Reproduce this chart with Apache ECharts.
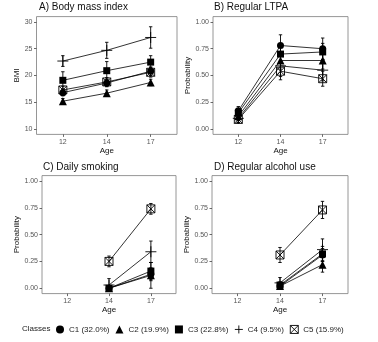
<!DOCTYPE html>
<html>
<head>
<meta charset="utf-8">
<script src="https://cdn.jsdelivr.net/npm/echarts@6/dist/echarts.min.js"></script>
<style>html,body{margin:0;padding:0;background:#fff;}#c{width:378px;height:342px;}</style>
</head>
<body>
<div id="c"></div>
<script>
// ---------- DATA ----------
const ages = ['12', '14', '17'];
const classNames = ['C1 (32.0%)', 'C2 (19.9%)', 'C3 (22.8%)', 'C4 (9.5%)', 'C5 (15.9%)'];
const bmiTicks = [10, 15, 20, 25, 30];
const probTicks = [0, 0.25, 0.5, 0.75, 1];

// A) Body mass index (estimate, +/- half-width)
const bmiC1 = [16.8, 18.6, 20.8];  const bmiC1Err = [0.6, 0.7, 0.8];
const bmiC2 = [15.2, 16.7, 18.7];  const bmiC2Err = [0.5, 0.6, 0.6];
const bmiC3 = [19.1, 20.9, 22.5];  const bmiC3Err = [1.6, 1.7, 1.2];
const bmiC4 = [22.7, 24.7, 27.1];  const bmiC4Err = [1.0, 1.5, 2.0];
const bmiC5 = [17.3, 18.8, 20.6];  const bmiC5Err = [0.7, 0.8, 0.9];

// B) Regular LTPA
const ltpaC1 = [0.17, 0.78, 0.75]; const ltpaC1Err = [0.04, 0.10, 0.10];
const ltpaC2 = [0.12, 0.64, 0.64]; const ltpaC2Err = [0.04, 0.08, 0.08];
const ltpaC3 = [0.15, 0.70, 0.72]; const ltpaC3Err = [0.04, 0.08, 0.08];
const ltpaC4 = [0.10, 0.59, 0.55]; const ltpaC4Err = [0.04, 0.10, 0.10];
const ltpaC5 = [0.09, 0.54, 0.47]; const ltpaC5Err = [0.03, 0.08, 0.07];

// C) Daily smoking
const smkC1 = [null, 0.00, 0.13];  const smkC1Err = [null, 0.01, 0.06];
const smkC2 = [null, 0.00, 0.12];  const smkC2Err = [null, 0.01, 0.12];
const smkC3 = [null, 0.00, 0.16];  const smkC3Err = [null, 0.01, 0.08];
const smkC4 = [null, 0.03, 0.34];  const smkC4Err = [null, 0.06, 0.10];
const smkC5 = [null, 0.25, 0.74];  const smkC5Err = [null, 0.05, 0.05];

// D) Regular alcohol use
const alcC1 = [null, 0.02, 0.31];  const alcC1Err = [null, 0.02, 0.06];
const alcC2 = [null, 0.02, 0.22];  const alcC2Err = [null, 0.02, 0.07];
const alcC3 = [null, 0.03, 0.32];  const alcC3Err = [null, 0.03, 0.07];
const alcC4 = [null, 0.05, 0.36];  const alcC4Err = [null, 0.05, 0.10];
const alcC5 = [null, 0.31, 0.73];  const alcC5Err = [null, 0.07, 0.08];

// ---------- STYLE ----------
const FONT = '"Liberation Sans", Arial, Helvetica, sans-serif';
const PLUS = 'path://M5 0L5 10M0 5L10 5';
const BOXX = 'path://M0 0L10 0L10 10L0 10ZM0 0L10 10M10 0L0 10';
const symbols = ['circle', 'triangle', 'rect', PLUS, BOXX];
const symSizes = [7, 8, 7, 11, 8];
const hollow = [false, false, false, true, true];

const panels = [
  { title: 'A) Body mass index', yName: 'BMI', ticks: bmiTicks, min: 9, max: 31, dec: 0, nameGap: 11,
    vals: [bmiC1, bmiC2, bmiC3, bmiC4, bmiC5], errs: [bmiC1Err, bmiC2Err, bmiC3Err, bmiC4Err, bmiC5Err],
    grid: { left: 36.5, top: 16.6, width: 140.5, height: 117.8 }, tl: 39, tt: 2 },
  { title: 'B) Regular LTPA', yName: 'Probability', ticks: probTicks, min: -0.05, max: 1.05, dec: 2, nameGap: 18,
    vals: [ltpaC1, ltpaC2, ltpaC3, ltpaC4, ltpaC5], errs: [ltpaC1Err, ltpaC2Err, ltpaC3Err, ltpaC4Err, ltpaC5Err],
    grid: { left: 213, top: 16.6, width: 135, height: 117.8 }, tl: 214, tt: 2 },
  { title: 'C) Daily smoking', yName: 'Probability', ticks: probTicks, min: -0.05, max: 1.05, dec: 2, nameGap: 18,
    vals: [smkC1, smkC2, smkC3, smkC4, smkC5], errs: [smkC1Err, smkC2Err, smkC3Err, smkC4Err, smkC5Err],
    grid: { left: 42, top: 175.6, width: 134, height: 118 }, tl: 43, tt: 162 },
  { title: 'D) Regular alcohol use', yName: 'Probability', ticks: probTicks, min: -0.05, max: 1.05, dec: 2, nameGap: 18,
    vals: [alcC1, alcC2, alcC3, alcC4, alcC5], errs: [alcC1Err, alcC2Err, alcC3Err, alcC4Err, alcC5Err],
    grid: { left: 212, top: 175.6, width: 136, height: 118 }, tl: 214, tt: 162 }
];

function errRender(params, api) {
  const x = api.value(0), lo = api.value(1), hi = api.value(2);
  const p1 = api.coord([x, lo]), p2 = api.coord([x, hi]);
  const w = 1.7;
  const st = { stroke: '#000', lineWidth: 0.9 };
  return { type: 'group', children: [
    { type: 'line', shape: { x1: p1[0], y1: p1[1], x2: p2[0], y2: p2[1] }, style: st },
    { type: 'line', shape: { x1: p1[0] - w, y1: p1[1], x2: p1[0] + w, y2: p1[1] }, style: st },
    { type: 'line', shape: { x1: p2[0] - w, y1: p2[1], x2: p2[0] + w, y2: p2[1] }, style: st }
  ]};
}

const grids = [], xAxes = [], yAxes = [], titles = [], series = [];
const tickIdx = ages.map((a, i) => i);

panels.forEach((p, pi) => {
  grids.push(Object.assign({ show: true, borderColor: '#8a8a8a', borderWidth: 0.9, backgroundColor: 'transparent', containLabel: false }, p.grid));
  titles.push({ text: p.title, left: p.tl, top: p.tt, padding: 0,
    textStyle: { fontSize: 10, fontWeight: 'normal', color: '#111', fontFamily: FONT } });
  xAxes.push({
    gridIndex: pi, type: 'value', min: -0.6, max: 2.6, position: 'bottom',
    name: 'Age', nameLocation: 'middle', nameGap: 12,
    nameTextStyle: { fontSize: 8, color: '#111', fontFamily: FONT },
    axisLine: { show: false, onZero: false }, splitLine: { show: false },
    axisTick: { show: true, length: 2.5, customValues: tickIdx, lineStyle: { color: '#444', width: 0.8 } },
    axisLabel: { customValues: tickIdx, fontSize: 7, color: '#555', fontFamily: FONT, margin: 4,
      formatter: v => ages[Math.round(v)] }
  });
  yAxes.push({
    gridIndex: pi, type: 'value', min: p.min, max: p.max, position: 'left',
    name: p.yName, nameLocation: 'middle', nameGap: p.nameGap,
    nameTextStyle: { fontSize: 8, color: '#111', fontFamily: FONT },
    axisLine: { show: false, onZero: false }, splitLine: { show: false },
    axisTick: { show: true, length: 2.5, customValues: p.ticks, lineStyle: { color: '#444', width: 0.8 } },
    axisLabel: { customValues: p.ticks, fontSize: 7, color: '#555', fontFamily: FONT, margin: 4,
      formatter: v => Number(v).toFixed(p.dec) }
  });
  // error bars
  const errData = [];
  p.vals.forEach((arr, ci) => {
    arr.forEach((v, i) => {
      if (v !== null) errData.push([i, v - p.errs[ci][i], v + p.errs[ci][i]]);
    });
  });
  series.push({ type: 'custom', xAxisIndex: pi, yAxisIndex: pi, renderItem: errRender,
    encode: { x: 0, y: [1, 2] }, data: errData, z: 1, silent: true });
  // lines + points
  p.vals.forEach((arr, ci) => {
    const d = [];
    arr.forEach((v, i) => { if (v !== null) d.push([i, v]); });
    series.push({
      type: 'line', name: classNames[ci], xAxisIndex: pi, yAxisIndex: pi, data: d,
      symbol: symbols[ci], symbolSize: symSizes[ci], showSymbol: true, z: 2,
      lineStyle: { color: '#000', width: 0.8 },
      itemStyle: hollow[ci] ? { color: 'rgba(0,0,0,0)', borderColor: '#000', borderWidth: 0.9 }
                            : { color: '#000', borderWidth: 0 },
      emphasis: { disabled: true }, silent: true
    });
  });
});

const legendData = classNames.map((n, ci) => ({
  name: n, icon: symbols[ci],
  itemStyle: hollow[ci] ? { color: 'rgba(0,0,0,0)', borderColor: '#000', borderWidth: 0.9 }
                        : { color: '#000', borderWidth: 0 }
}));

const chart = echarts.init(document.getElementById('c'), null, { renderer: 'canvas' });
chart.setOption({
  animation: false,
  backgroundColor: '#fff',
  title: titles,
  grid: grids,
  xAxis: xAxes,
  yAxis: yAxes,
  series: series,
  legend: {
    data: legendData, left: 56, top: 325, padding: 0,
    itemWidth: 8, itemHeight: 8, itemGap: 6, selectedMode: false,
    textStyle: { fontSize: 8, color: '#222', fontFamily: FONT }
  },
  graphic: [{ type: 'text', left: 22, top: 325, style: { text: 'Classes', fontSize: 8, fill: '#222', fontFamily: FONT } }]
});
</script>
</body>
</html>
